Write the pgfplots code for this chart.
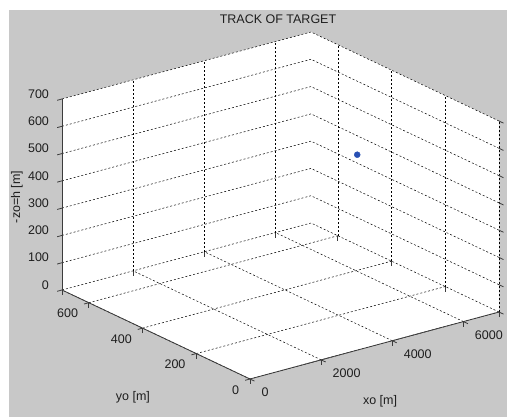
\documentclass[border=0pt]{standalone}
\usepackage{pgfplots}
\pgfplotsset{compat=1.18}
\usepackage{fontspec}
\setmainfont{Liberation Sans}
\definecolor{figbg}{RGB}{200,200,200}
\definecolor{dotblue}{RGB}{40,80,180}
\definecolor{axgray}{RGB}{60,60,60}
\definecolor{txt}{RGB}{30,30,30}
\begin{document}
\begin{tikzpicture}
\fill[white] (0,0) rectangle (507pt,417pt);
\fill[figbg] (9pt,0) rectangle (507pt,407pt);
\fill[white] (250pt,38pt) -- (499pt,105pt) -- (499pt,296pt) -- (311pt,385pt) -- (62pt,318pt) -- (62pt,127pt) -- cycle;
\begin{axis}[
  at={(250pt,38pt)}, anchor=origin,
  x={(0.035571pt,0.009571pt)},
  y={(-0.268571pt,0.127143pt)},
  z={(0pt,0.272857pt)},
  xmin=0,xmax=7000,ymin=0,ymax=700,zmin=0,zmax=700,
  xtick={0,2000,4000,6000},
  ytick={0,200,400,600},
  ztick={0,100,...,700},
  scaled ticks=false,
  /pgf/number format/set thousands separator={},
  /pgf/number format/assume math mode=true,
  clip=false,
  grid=major,
  major grid style={black, line width=0.5pt, dash pattern=on 2pt off 2pt},
  axis line style={draw=none},
  tick pos=left,
  tick style={axgray, line width=0.8pt},
  major tick length=5pt,
  tick align=outside,
  tick label style={font=\fontsize{12.5}{14}\selectfont, text=txt},
  xticklabel style={anchor=west, xshift=3.5pt, yshift=-11.5pt},
  yticklabel style={anchor=east, xshift=-2.5pt, yshift=-9.5pt},
  zticklabel style={anchor=east, xshift=-5pt, yshift=3pt},
  label style={font=\fontsize{12.5}{14}\selectfont, text=txt},
  title style={font=\fontsize{12.5}{14}\selectfont, text=txt},
  title={TRACK OF TARGET},
  title style={at={(axis cs:6072,700,757)}, anchor=center},
  xlabel={xo [m]},
  xlabel style={at={(axis cs:1497,-286,0)}, anchor=center},
  ylabel={yo [m]},
  ylabel style={at={(axis cs:-2779,68,0)}, anchor=center, rotate=0},
  zlabel={-zo=h [m]},
  zlabel style={at={(axis cs:0,868,263)}, anchor=center, rotate=0},
]
\draw[axgray, line width=0.8pt] (axis cs:0,0,0) -- (axis cs:7000,0,0);
\draw[axgray, line width=0.8pt] (axis cs:0,0,0) -- (axis cs:0,700,0);
\draw[axgray, line width=0.8pt] (axis cs:0,700,0) -- (axis cs:0,700,700);
\addplot3[only marks, mark=*, mark size=3pt, color=dotblue] coordinates {(5280,300,497)};
\end{axis}
\pgfresetboundingbox
\useasboundingbox (0,0) rectangle (507pt,417pt);
\end{tikzpicture}
\end{document}
